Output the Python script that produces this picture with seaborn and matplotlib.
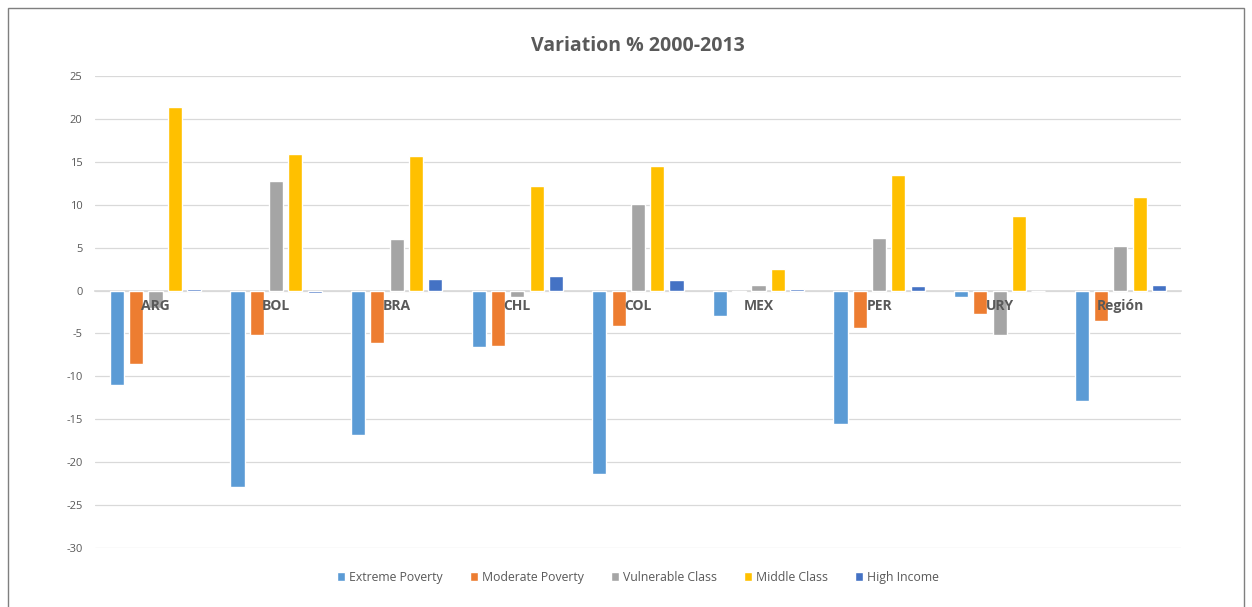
import pandas as pd
import seaborn as sns
import numpy as np
import matplotlib.pyplot as plt
from matplotlib.patches import Rectangle

# values (variation in percentage points, 2000-2013)
countries = ['ARG', 'BOL', 'BRA', 'CHL', 'COL', 'MEX', 'PER', 'URY', 'Región']
extreme_poverty = [-11.0, -22.9, -16.8, -6.6, -21.4, -3.0, -15.5, -0.8, -12.9]
moderate_poverty = [-8.5, -5.2, -6.1, -6.5, -4.1, -0.2, -4.4, -2.7, -3.6]
vulnerable_class = [-2.0, 12.7, 6.0, -0.7, 10.1, 0.6, 6.1, -5.2, 5.2]
middle_class = [21.4, 15.9, 15.7, 12.2, 14.5, 2.5, 13.4, 8.7, 10.9]
high_income = [0.2, -0.3, 1.3, 1.7, 1.2, 0.2, 0.5, 0.0, 0.6]

series_names = ['Extreme Poverty', 'Moderate Poverty', 'Vulnerable Class', 'Middle Class', 'High Income']
colors = ['#5B9BD5', '#ED7D31', '#A5A5A5', '#FFC000', '#4472C4']

# long format for seaborn
df = pd.DataFrame({'country': countries,
                   'Extreme Poverty': extreme_poverty,
                   'Moderate Poverty': moderate_poverty,
                   'Vulnerable Class': vulnerable_class,
                   'Middle Class': middle_class,
                   'High Income': high_income})
df = df.melt(id_vars='country', var_name='group', value_name='value')

sns.set_theme(style='white')
plt.rcParams['font.family'] = ['Open Sans', 'DejaVu Sans']
plt.rcParams['axes.unicode_minus'] = False   # plain hyphen like the original

fig = plt.figure(figsize=(12.52, 6.07), dpi=100)
ax = fig.add_axes([0.076, 0.097, 0.867, 0.778])

sns.barplot(data=df, x='country', y='value', hue='group', hue_order=series_names,
            palette=colors, width=0.8, gap=0.27, saturation=1, ax=ax, legend=True)

ax.set_ylim(-30, 25)
ax.set_yticks(np.arange(-30, 26, 5))
ax.yaxis.grid(True, color='#D9D9D9', linewidth=0.9)
ax.set_axisbelow(True)
ax.xaxis.set_zorder(3)   # category labels drawn over the bars like in excel
ax.set_xlabel('')
ax.set_ylabel('')

# x axis sits on zero
for s in ['top', 'right', 'left']:
    ax.spines[s].set_visible(False)
ax.spines['bottom'].set_position(('data', 0))
ax.spines['bottom'].set_color('#D9D9D9')
ax.spines['bottom'].set_zorder(0.5)
ax.tick_params(axis='x', length=0, pad=6, labelsize=10, labelcolor='#595959')
for lbl in ax.get_xticklabels():
    lbl.set_fontweight('bold')
ax.tick_params(axis='y', length=0, pad=9, labelsize=8, labelcolor='#595959')

ax.set_title('Variation % 2000-2013', fontsize=14, fontweight='bold', color='#595959', pad=18)

ax.legend(loc='upper center', bbox_to_anchor=(0.5, -0.025), ncol=5, frameon=False,
          fontsize=8.8, labelcolor='#595959', handlelength=0.7, handleheight=0.7,
          handletextpad=0.3, columnspacing=2.2)

# thin frame around the whole figure
fig.patches.append(Rectangle((0.006, -0.01), 0.988, 0.997, transform=fig.transFigure,
                             fill=False, edgecolor='#7F7F7F', linewidth=1))

plt.savefig('out.png', dpi=100)
